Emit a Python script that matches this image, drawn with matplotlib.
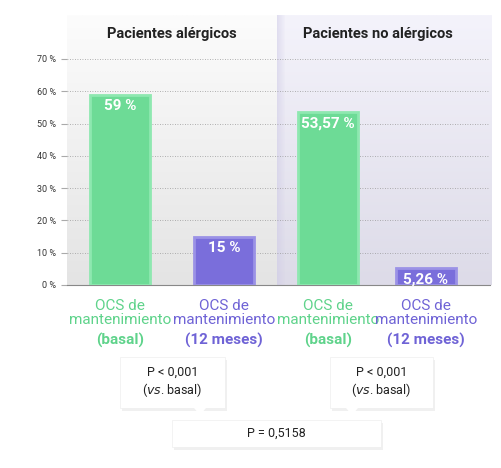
import numpy as np
import matplotlib
matplotlib.use("Agg")
import matplotlib.pyplot as plt
from matplotlib.patches import Rectangle, Polygon
from matplotlib.colors import LinearSegmentedColormap

plt.rcParams["font.family"] = ["Roboto", "DejaVu Sans"]

groups = ["Pacientes alérgicos", "Pacientes no alérgicos"]
values = [59, 15, 53.57, 5.26]
value_labels = ["59 %", "15 %", "53,57 %", "5,26 %"]
cat_top = ["OCS de\nmantenimiento", "OCS de\nmantenimiento"] * 2
cat_bold = ["(basal)", "(12 meses)"] * 2
yticks = [0, 10, 20, 30, 40, 50, 60, 70]
pvals = ["P < 0,001\n($\\it{vs}$. basal)", "P < 0,001\n($\\it{vs}$. basal)", "P = 0,5158"]

W, H = 502, 468
GREEN, PURPLE = "#6ddb96", "#7a6edb"
GREEN_T, PURPLE_T = "#5fd38b", "#6f63d6"

fig = plt.figure(figsize=(W / 100, H / 100), dpi=100)


def fx(x):
    return x / W


def fy(y):
    return 1 - y / H


def pixel_axes(z):
    a = fig.add_axes([0, 0, 1, 1], zorder=z)
    a.set_xlim(0, W)
    a.set_ylim(H, 0)
    a.axis("off")
    a.patch.set_alpha(0)
    return a


# panel backgrounds (below everything)
bg = pixel_axes(0)
grad = np.linspace(0, 1, 100)[:, None]
bg.imshow(grad, cmap=LinearSegmentedColormap.from_list("g", ["#fcfcfc", "#e4e4e4"]),
          extent=[67, 277, 285, 15], aspect="auto")
bg.imshow(grad, cmap=LinearSegmentedColormap.from_list("p", ["#f4f3fb", "#dddbe8"]),
          extent=[277, 492, 285, 15], aspect="auto")
for i in range(8):
    bg.add_patch(Rectangle((277 + i, 15), 1, 270, color="#cfcbe6", alpha=0.5 - i * 0.06,
                           linewidth=0))
bg.set_xlim(0, W)
bg.set_ylim(H, 0)

ax = fig.add_axes([fx(67), fy(285), fx(490 - 67), (285 - 59) / H], zorder=1)
ax.patch.set_alpha(0)
ax.set_xlim(67, 490)
ax.set_ylim(0, 70)
xs = [120, 224, 328, 426]
cols = [GREEN, PURPLE, GREEN, PURPLE]
edges = ["#8ee8b0", "#9b92e6", "#8ee8b0", "#9b92e6"]
ax.bar(xs, values, width=60, color=cols, edgecolor=edges, linewidth=2, zorder=3)
for x, v, lab in zip(xs, values, value_labels):
    ax.text(x, v - 1.3, lab, ha="center", va="top", color="white",
            fontsize=11, fontweight="bold", zorder=4)
ax.set_yticks(yticks)
ax.set_yticklabels([f"{t} %" for t in yticks], fontsize=6.5, color="#333333")
ax.yaxis.grid(True, linestyle=(0, (1, 2)), color="#999999", linewidth=0.6)
ax.set_axisbelow(True)
ax.tick_params(axis="y", length=4, color="#aaaaaa", pad=4)
ax.set_xticks([])
for s in ["top", "right", "left"]:
    ax.spines[s].set_visible(False)
ax.spines["bottom"].set_color("#888888")

for gx, g in zip([172, 378], groups):
    fig.text(fx(gx), fy(34), g, ha="center", va="center", fontsize=10.5,
             fontweight="bold", color="#222222")

tcols = [GREEN_T, PURPLE_T, GREEN_T, PURPLE_T]
for x, t, b, c in zip(xs, cat_top, cat_bold, tcols):
    fig.text(fx(x), fy(313), t, ha="center", va="center", fontsize=11,
             color=c, linespacing=1.05)
    fig.text(fx(x), fy(340), b, ha="center", va="center", fontsize=11,
             color=c, fontweight="bold")

# p-value boxes on top
top = pixel_axes(3)
boxes = [(120, 357, 225, 408, 200), (330, 357, 433, 408, 352), (172, 420, 381, 447, None)]
for (x0, y0, x1, y1, tip), txt in zip(boxes, pvals):
    top.add_patch(Rectangle((x0 + 2, y0 + 3), x1 - x0, y1 - y0, color="#000000",
                            alpha=0.06, zorder=5, linewidth=0))
    top.add_patch(Rectangle((x0, y0), x1 - x0, y1 - y0, facecolor="white",
                            edgecolor="#eeeeee", linewidth=0.5, zorder=6))
    if tip:
        top.add_patch(Polygon([(tip - 6, y1), (tip + 6, y1), (tip, y1 + 7)],
                              facecolor="white", edgecolor="none", zorder=6))
    top.text((x0 + x1) / 2, (y0 + y1) / 2, txt, ha="center", va="center",
             fontsize=9, color="#222222", zorder=7, linespacing=1.2)

fig.savefig("out.png", dpi=100)
